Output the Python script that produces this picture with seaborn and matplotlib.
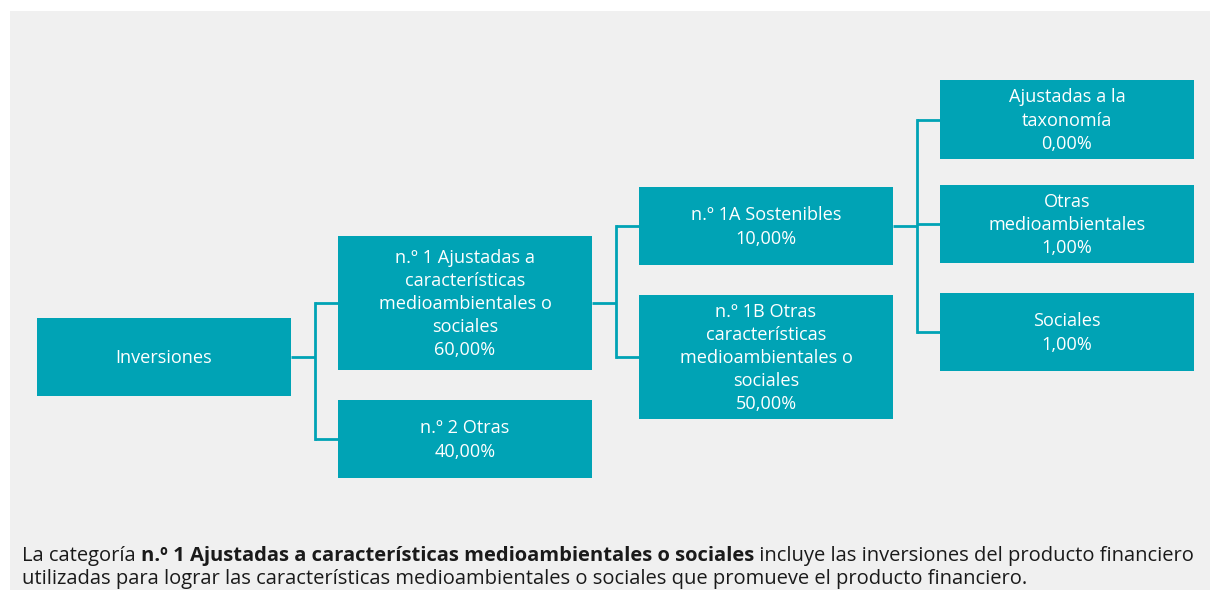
import matplotlib
matplotlib.use("Agg")
import matplotlib.pyplot as plt
import matplotlib.patches as mpatches
import seaborn as sns

# Tree data: label, percentage, parent index
node_labels = [
    "Inversiones",
    "n.º 1 Ajustadas a\ncaracterísticas\nmedioambientales o\nsociales",
    "n.º 2 Otras",
    "n.º 1A Sostenibles",
    "n.º 1B Otras\ncaracterísticas\nmedioambientales o\nsociales",
    "Ajustadas a la\ntaxonomía",
    "Otras\nmedioambientales",
    "Sociales",
]
node_values = [None, 60.0, 40.0, 10.0, 50.0, 0.0, 1.0, 1.0]
node_parents = [None, 0, 0, 1, 1, 3, 3, 3]

# Layout (pixels): column of each node, vertical box extents
node_levels = [0, 1, 1, 2, 2, 3, 3, 3]
box_top = [318, 236, 400, 187, 295, 80, 185, 293]
box_bottom = [396, 370, 478, 265, 419, 159, 263, 371]

footnote_normal_1 = "La categoría "
footnote_bold = "n.º 1 Ajustadas a características medioambientales o sociales"
footnote_normal_2 = " incluye las inversiones del producto financiero"
footnote_line_2 = "utilizadas para lograr las características medioambientales o sociales que promueve el producto financiero."

TEAL = "#00A3B5"
PANEL = "#F0F0F0"

sns.set_theme(style="white")
plt.rcParams["font.family"] = ["Open Sans", "DejaVu Sans"]

W, H = 1212, 590
fig = plt.figure(figsize=(W / 100, H / 100), dpi=100)
ax = fig.add_axes([0, 0, 1, 1])
ax.set_xlim(0, W)
ax.set_ylim(H, 0)
ax.axis("off")

# grey panel
ax.add_patch(mpatches.Rectangle((10, 11), 1200, 590, facecolor=PANEL, edgecolor="none", zorder=0))

col_x0 = 37
col_w = 254
col_gap = 47


def fmt_pct(v):
    return f"{v:.2f}".replace(".", ",") + "%"


centers = []
for i, lab in enumerate(node_labels):
    x0 = col_x0 + node_levels[i] * (col_w + col_gap)
    yc = (box_top[i] + box_bottom[i]) / 2
    centers.append((x0, yc))
    ax.add_patch(mpatches.Rectangle((x0, box_top[i]), col_w, box_bottom[i] - box_top[i],
                                    facecolor=TEAL, edgecolor="none", zorder=2))
    txt = lab if node_values[i] is None else lab + "\n" + fmt_pct(node_values[i])
    ax.text(x0 + col_w / 2, yc + 1, txt, ha="center", va="center", color="white",
            fontsize=13.1, linespacing=1.37, zorder=3)

# connectors
for parent in set(p for p in node_parents if p is not None):
    kids = [i for i, p in enumerate(node_parents) if p == parent]
    px, py = centers[parent]
    px += col_w
    mid = px + col_gap / 2
    ys = [centers[k][1] for k in kids]
    ax.plot([px, mid], [py, py], color=TEAL, lw=2, zorder=1, solid_capstyle="butt")
    ax.plot([mid, mid], [min(ys), max(ys)], color=TEAL, lw=2, zorder=1, solid_capstyle="projecting")
    for k in kids:
        ax.plot([mid, centers[k][0]], [centers[k][1]] * 2, color=TEAL, lw=2, zorder=1,
                solid_capstyle="butt")

# footnote with bold segment
fs = 14.5
fig.canvas.draw()
renderer = fig.canvas.get_renderer()
x = 22
y1 = 556
for seg, wt in [(footnote_normal_1, "normal"), (footnote_bold, "bold"), (footnote_normal_2, "normal")]:
    t = ax.text(x, y1, seg, ha="left", va="center", fontsize=fs, fontweight=wt, color="#1a1a1a")
    bb = t.get_window_extent(renderer=renderer)
    x += bb.width
ax.text(22, y1 + 23, footnote_line_2, ha="left", va="center", fontsize=fs, color="#1a1a1a")

fig.savefig("out.png", dpi=100, facecolor="white")
